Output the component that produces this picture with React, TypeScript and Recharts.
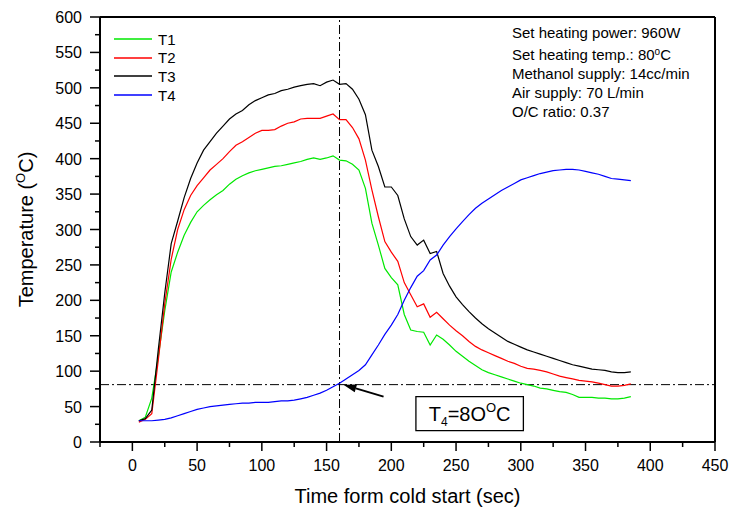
import { Legend, Line, LineChart, ReferenceArea, ReferenceLine, XAxis, YAxis } from "recharts";

const time = [
  5, 10, 15, 20, 25, 30, 35, 40, 45, 50, 55, 60, 65, 70, 75, 80, 85, 90, 95, 100, 105, 110, 115, 120, 125,
  130, 135, 140, 145, 150, 155, 160, 165, 170, 175, 180, 185, 190, 195, 200, 205, 210, 215, 220, 225, 230,
  235, 240, 245, 250, 255, 260, 265, 270, 275, 280, 285, 290, 295, 300, 305, 310, 315, 320, 325, 330, 335,
  340, 345, 350, 355, 360, 365, 370, 375, 380, 385,
];

const t1 = [
  30, 35, 62, 120, 185, 240, 268, 292, 310, 325,
  334, 342, 349, 355, 364, 371, 376, 380, 383, 385,
  387, 389, 390, 392, 394, 396, 399, 401, 399, 401,
  404, 398, 397, 392, 384, 358, 309, 278, 245, 232,
  222, 180, 158, 156, 155, 137, 151, 145, 137, 128,
  121, 114, 108, 102, 98, 95, 92, 89, 86, 83,
  81, 79, 76, 75, 73, 71, 70, 67, 63, 63,
  63, 62, 62, 61, 61, 62, 64,
];

const t2 = [
  28, 32, 40, 115, 195, 258, 300, 328, 348, 362,
  373, 384, 392, 400, 410, 419, 424, 430, 436, 440,
  440, 441, 446, 450, 452, 456, 457, 457, 457, 460,
  463, 455, 455, 444, 428, 398, 356, 318, 283, 268,
  255, 225, 208, 191, 195, 176, 183, 174, 165, 157,
  150, 142, 135, 130, 126, 122, 118, 114, 111, 107,
  104, 103, 101, 99, 96, 93, 91, 89, 87, 86,
  85, 83, 81, 79, 79, 80, 82,
];

const t3 = [
  30, 33, 45, 130, 210, 280, 312, 345, 372, 394,
  412, 424, 436, 446, 456, 463, 468, 476, 482, 486,
  490, 492, 496, 498, 501, 503, 505, 506, 503, 508,
  511, 505, 506, 498, 484, 462, 412, 389, 360, 360,
  348, 315, 290, 278, 285, 266, 269, 238, 220, 205,
  194, 184, 175, 167, 160, 154, 148, 142, 138, 134,
  130, 127, 124, 121, 118, 115, 112, 109, 107, 105,
  103, 102, 101, 99, 98, 98, 99,
];

const t4 = [
  30, 30, 30, 31, 32, 34, 37, 40, 43, 46,
  48, 50, 51, 52, 53, 54, 55, 55, 56, 56,
  56, 57, 58, 58, 59, 61, 63, 66, 69, 73,
  78, 83, 89, 95, 101, 109, 123, 137, 152, 165,
  180, 200, 218, 234, 242, 257, 264, 278, 290, 301,
  311, 321, 330, 337, 343, 349, 355, 360, 365, 370,
  373, 376, 379, 381, 383, 384, 385, 385, 384, 382,
  380, 378, 375, 372, 371, 370, 369,
];

const xTicks = [-25, 0, 25, 50, 75, 100, 125, 150, 175, 200, 225, 250, 275, 300, 325, 350, 375, 400, 425, 450];
const yTicks = [0, 25, 50, 75, 100, 125, 150, 175, 200, 225, 250, 275, 300, 325, 350, 375, 400, 425, 450, 475, 500, 525, 550, 575, 600];
const rightTicks = [0, 30, 60, 90, 120, 150, 180, 210, 240, 270, 300, 330, 360, 390, 420, 450, 480, 510, 540, 570, 600];

const notes = ["Set heating power: 960W", "Set heating temp.: 80", "Methanol supply: 14cc/min", "Air supply: 70 L/min", "O/C ratio: 0.37"];

// marker lines and the callout
const markTime = 160;
const markTemp = 81;
const arrowFrom = { x: 194, y: 64 };
const arrowTo = { x: 163, y: 81 };
const boxX = [219, 302];
const boxY = [16, 64];

const rows = time.map((t, i) => ({ t, T1: t1[i], T2: t2[i], T3: t3[i], T4: t4[i] }));

const font = '"Liberation Sans", Arial, sans-serif';

function BottomTick({ x, y, payload }: any) {
  const v = payload.value;
  const major = v >= 0 && v % 50 === 0;
  return (
    <g>
      <line x1={x} y1={y} x2={x} y2={y + (major ? 9 : 5)} stroke="#000" strokeWidth={1.5} />
      {major && (
        <text x={x} y={y + 29} textAnchor="middle" fontSize={16} fontFamily={font} fill="#000">
          {v}
        </text>
      )}
    </g>
  );
}

function LeftTick({ x, y, payload }: any) {
  const v = payload.value;
  const major = v % 50 === 0;
  return (
    <g>
      <line x1={x - (major ? 10 : 5)} y1={y} x2={x} y2={y} stroke="#000" strokeWidth={1.5} />
      {major && (
        <text x={x - 18} y={y + 6} textAnchor="end" fontSize={16} fontFamily={font} fill="#000">
          {v}
        </text>
      )}
    </g>
  );
}

function XTitle({ viewBox }: any) {
  return (
    <text x={viewBox.x + viewBox.width / 2} y={viewBox.y + 61} textAnchor="middle" fontSize={20} fontFamily={font} fill="#000">
      Time form cold start (sec)
    </text>
  );
}

function YTitle({ viewBox }: any) {
  const cy = viewBox.y + viewBox.height / 2;
  return (
    <text transform={`translate(${viewBox.x - 7},${cy}) rotate(-90)`} textAnchor="middle" fontSize={20} fontFamily={font} fill="#000">
      Temperature (<tspan fontSize={13} dy={-8}>O</tspan>
      <tspan dy={8}>C)</tspan>
    </text>
  );
}

function BoxLabel({ viewBox }: any) {
  const cx = viewBox.x + viewBox.width / 2;
  const cy = viewBox.y + viewBox.height / 2;
  return (
    <text x={cx} y={cy + 7} textAnchor="middle" fontSize={20} fontFamily={font} fill="#000">
      T<tspan fontSize={12} dy={5}>4</tspan>
      <tspan dy={-5}>=8O</tspan>
      <tspan fontSize={13} dy={-9}>O</tspan>
      <tspan dy={9}>C</tspan>
    </text>
  );
}

function Arrow({ x1, y1, x2, y2 }: any) {
  const dx = x2 - x1;
  const dy = y2 - y1;
  const len = Math.sqrt(dx * dx + dy * dy) || 1;
  const ux = dx / len;
  const uy = dy / len;
  const bx = x2 - ux * 13;
  const by = y2 - uy * 13;
  const px = -uy * 4;
  const py = ux * 4;
  return (
    <g>
      <line x1={x1} y1={y1} x2={bx} y2={by} stroke="#000" strokeWidth={2} />
      <polygon points={`${x2},${y2} ${bx + px},${by + py} ${bx - px},${by - py}`} fill="#000" />
    </g>
  );
}

function LegendBox({ payload }: any) {
  return (
    <div style={{ fontFamily: font }}>
      {(payload || []).map((e: any) => (
        <div key={e.value} style={{ display: "flex", alignItems: "center", height: 18.6 }}>
          <svg width={40} height={4}>
            <line x1={0} y1={2} x2={38} y2={2} stroke={e.color} strokeWidth={1.6} />
          </svg>
          <span style={{ marginLeft: 4, fontSize: 15, color: "#000" }}>{e.value}</span>
        </div>
      ))}
    </div>
  );
}

export default function App() {
  return (
    <div style={{ position: "relative", width: 731, height: 512, fontFamily: font, background: "#fff" }}>
      <style>{"body{margin:0}"}</style>
      <LineChart width={731} height={512} data={rows} margin={{ top: 0, right: 0, bottom: 30, left: 40 }}>
        <XAxis
          dataKey="t"
          type="number"
          domain={[-25, 450]}
          ticks={xTicks}
          interval={0}
          height={40}
          tickSize={0}
          tickMargin={0}
          tickLine={false}
          tick={BottomTick}
          axisLine={{ stroke: "#000", strokeWidth: 2 }}
          label={<XTitle />}
        />
        <XAxis
          xAxisId="top"
          orientation="top"
          type="number"
          domain={[-25, 450]}
          ticks={xTicks}
          interval={0}
          height={17}
          tickSize={3}
          tick={false}
          axisLine={{ stroke: "#000", strokeWidth: 2 }}
          tickLine={{ stroke: "#000" }}
        />
        <YAxis
          type="number"
          domain={[0, 600]}
          ticks={yTicks}
          interval={0}
          width={60}
          tickSize={0}
          tickMargin={0}
          tickLine={false}
          tick={LeftTick}
          axisLine={{ stroke: "#000", strokeWidth: 2 }}
          label={<YTitle />}
        />
        <YAxis
          yAxisId="right"
          orientation="right"
          type="number"
          domain={[0, 600]}
          ticks={rightTicks}
          interval={0}
          width={16}
          tickSize={3}
          tick={false}
          axisLine={{ stroke: "#000", strokeWidth: 2 }}
          tickLine={{ stroke: "#000" }}
        />
        <Legend
          layout="vertical"
          align="center"
          verticalAlign="middle"
          wrapperStyle={{ left: 114, top: 30, width: 80 }}
          content={LegendBox}
        />
        <ReferenceLine x={markTime} stroke="#000" strokeWidth={1} strokeDasharray="9 3 2 3" />
        <ReferenceLine y={markTemp} stroke="#000" strokeWidth={1} strokeDasharray="9 3 2 3" />
        <Line name="T1" dataKey="T1" type="linear" stroke="#00e800" strokeWidth={1.2} dot={false} isAnimationActive={false} />
        <Line name="T2" dataKey="T2" type="linear" stroke="#ff0000" strokeWidth={1.2} dot={false} isAnimationActive={false} />
        <Line name="T3" dataKey="T3" type="linear" stroke="#000000" strokeWidth={1.2} dot={false} isAnimationActive={false} />
        <Line name="T4" dataKey="T4" type="linear" stroke="#0000ff" strokeWidth={1.2} dot={false} isAnimationActive={false} />
        <ReferenceLine segment={[arrowFrom, arrowTo]} shape={Arrow} />
        <ReferenceArea
          x1={boxX[0]}
          x2={boxX[1]}
          y1={boxY[0]}
          y2={boxY[1]}
          fill="#fff"
          fillOpacity={1}
          stroke="#000"
          strokeWidth={1.3}
          label={<BoxLabel />}
        />
      </LineChart>
      <div style={{ position: "absolute", left: 512, top: 23, fontSize: 15, lineHeight: "19px", color: "#000" }}>
        {notes.map((n, i) => (
          <div key={n}>
            {n}
            {i === 1 && (
              <>
                <span style={{ fontSize: 10, verticalAlign: 5 }}>o</span>C
              </>
            )}
          </div>
        ))}
      </div>
    </div>
  );
}
